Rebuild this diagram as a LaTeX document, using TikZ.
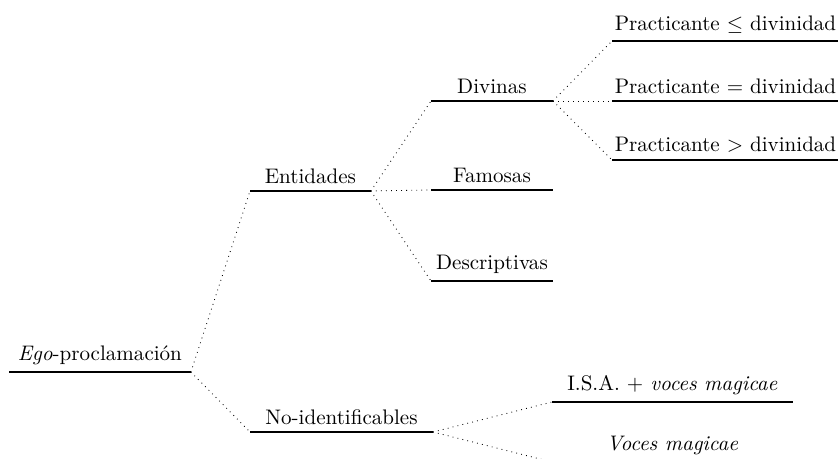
\documentclass[tikz,border=0pt]{standalone}
\usepackage{amsmath}
\usepackage{amssymb}

\begin{document}
\begin{tikzpicture}[x=0.475pt,y=-0.475pt,
  rama/.style={anchor=south west,inner xsep=0pt},
  guia/.style={dotted}]
  \useasboundingbox (0,0) rectangle (838,459);
  \clip (0,0) rectangle (838,459);

  \node [rama,minimum width=86pt]    (ego)  at (9,372)   {\textit{Ego}-proclamación};
  \node [rama,minimum width=57pt]    (ent)  at (250,191) {Entidades};
  \node [rama,minimum width=86.5pt]  (noid) at (250,432) {No-identificables};
  \node [rama,minimum width=57.5pt]  (div)  at (431,101) {Divinas};
  \node [rama,minimum width=57.5pt]  (fam)  at (431,190) {Famosas};
  \node [rama,minimum width=57.5pt]  (desc) at (431,281) {Descriptivas};
  \node [rama,minimum width=107.4pt] (pmen) at (612,41)  {Practicante $\leq$ divinidad};
  \node [rama,minimum width=107.4pt] (pig)  at (612,101) {Practicante $=$ divinidad};
  \node [rama,minimum width=107.4pt] (pmay) at (612,160) {Practicante $>$ divinidad};
  \node [rama,minimum width=114pt]   (isa)  at (552,402) {I.S.A. $+$ \textit{voces magicae}};
  \node [rama,minimum width=114pt]   (voc)  at (552,462) {\textit{Voces magicae}};

  \foreach \n in {ego,ent,noid,div,fam,desc,pmen,pig,pmay,isa,voc}
    \draw [thick] (\n.south west) -- (\n.south east);

  \foreach \a/\b in {ego/ent,ego/noid,ent/div,ent/fam,ent/desc,div/pmen,div/pig,div/pmay,noid/isa,noid/voc}
    \draw [guia] (\a.south east) -- (\b.south west);
\end{tikzpicture}
\end{document}
